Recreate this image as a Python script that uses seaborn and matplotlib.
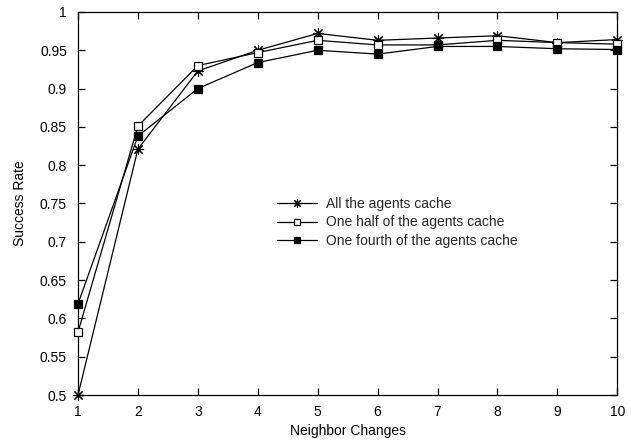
import matplotlib
matplotlib.use("Agg")
import matplotlib.pyplot as plt
import seaborn as sns
import pandas as pd

neighbor_changes = [1, 2, 3, 4, 5, 6, 7, 8, 9, 10]
all_agents = [0.500, 0.821, 0.923, 0.950, 0.972, 0.963, 0.966, 0.969, 0.960, 0.964]
half_agents = [0.582, 0.851, 0.930, 0.947, 0.963, 0.957, 0.957, 0.963, 0.960, 0.958]
fourth_agents = [0.619, 0.838, 0.900, 0.934, 0.950, 0.945, 0.955, 0.955, 0.952, 0.951]
series_names = ["All the agents cache", "One half of the agents cache",
                "One fourth of the agents cache"]

sns.set_theme(style="ticks")
plt.rcParams["font.family"] = ["Liberation Sans", "DejaVu Sans"]

df = pd.DataFrame({
    "x": neighbor_changes * 3,
    "y": all_agents + half_agents + fourth_agents,
    "series": [series_names[0]] * 10 + [series_names[1]] * 10 + [series_names[2]] * 10,
})

fig = plt.figure(figsize=(6.31, 4.42), dpi=100)
ax = fig.add_axes([0.1236, 0.1063, 0.8547, 0.8666])

styles = [
    dict(marker=(8, 2, 0), markersize=8, markerfacecolor="black", markeredgewidth=0.8),
    dict(marker="s", markersize=5.5, markerfacecolor="white", markeredgewidth=0.9),
    dict(marker="s", markersize=6, markerfacecolor="black", markeredgewidth=0.9),
]
for name, st in zip(series_names, styles):
    sns.lineplot(data=df[df["series"] == name], x="x", y="y", ax=ax, color="black",
                 linewidth=0.9, markeredgecolor="black", label=name, clip_on=False,
                 zorder=3, **st)

ax.set_xlim(1, 10)
ax.set_ylim(0.5, 1.0)
ax.set_xticks(neighbor_changes)
ax.set_xticklabels([str(v) for v in neighbor_changes])
yt = [0.5, 0.55, 0.6, 0.65, 0.7, 0.75, 0.8, 0.85, 0.9, 0.95, 1.0]
ax.set_yticks(yt)
ax.set_yticklabels(["0.5", "0.55", "0.6", "0.65", "0.7", "0.75", "0.8", "0.85", "0.9", "0.95", "1"])
ax.tick_params(direction="in", length=5, width=0.9, top=True, right=True,
               labelsize=10, colors="black")
ax.tick_params(axis="y", pad=8)
ax.tick_params(axis="x", pad=7)
for s in ax.spines.values():
    s.set_color("black")
    s.set_linewidth(0.9)
ax.set_xlabel("Neighbor Changes", fontsize=10, color="black", labelpad=4)
ax.set_ylabel("Success Rate", fontsize=10, color="black", labelpad=9)

leg = ax.legend(loc="upper left", bbox_to_anchor=(0.359, 0.532), frameon=False,
                fontsize=10, handlelength=2.9, handletextpad=0.6, labelspacing=0.33,
                borderaxespad=0, markerscale=0.8)

fig.savefig("out.png", dpi=100)
